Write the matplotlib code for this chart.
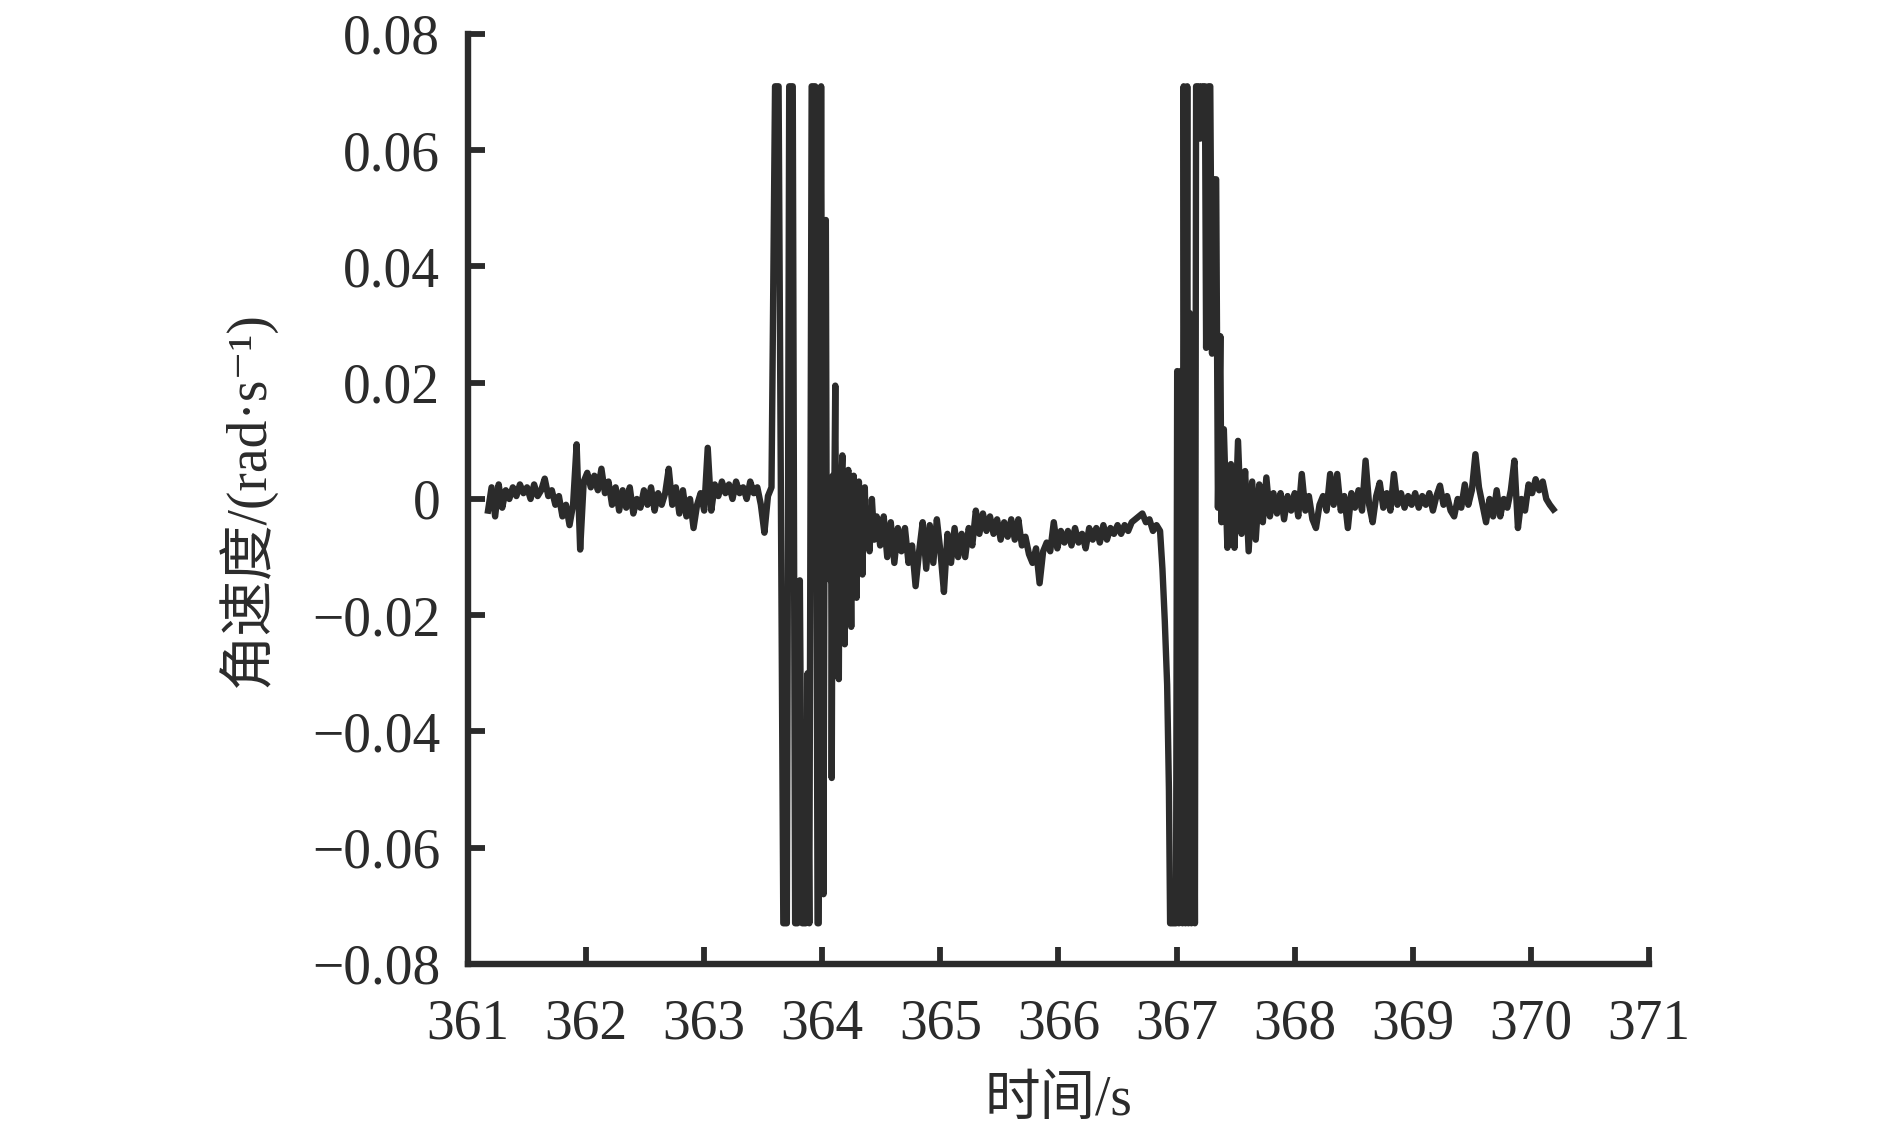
"""Angular velocity trace, 361-371 s."""

import matplotlib
matplotlib.use("Agg")
import matplotlib.pyplot as plt
import numpy as np

plt.rcParams["font.family"] = ["Liberation Serif", "DejaVu Serif", "Noto Sans CJK SC"]
plt.rcParams["axes.unicode_minus"] = True

# --- data (angular velocity in mrad/s) ---------------------------------
# quiet segment before the first disturbance, sampled every 0.03 s
seg_a_t0 = 361.17
seg_a_dt = 0.03
seg_a_mrad = [
    -2, 2, -3, 2.5, -1.5, 1.5, 0, 2, 0.5, 2.5,
    1, 2, 0, 2.5, 0.5, 1.5, 3.5, 0.5, 1.5, -1,
    0.5, -3, -1, -4.5, -1, 9.4, -8.7, 3, 4.5, 2,
    4, 1.5, 5.2, 1, 3, -1, 2, -2, 1.5, -1.5,
    2, -2.5, 0, -1.5, 1.5, -1, 2, -2, 1, -1,
    1, 5.2, -1, 2, -2.5, 1.5, -3, 0, -5, -1,
    1, -2, 8.8, -2, 2.5, 0.5, 3, 1, 2.5, 0,
    3, 1, 2, 0, 3, 1, 2, -1, -5.8, 0.5,
]

# first disturbance (saturated at about +0.071 / -0.073)
burst1_t = [
    363.57, 363.60, 363.63, 363.67, 363.70, 363.72, 363.75, 363.77, 363.79, 363.81,
    363.83, 363.86, 363.875, 363.89, 363.91, 363.94, 363.96, 363.97, 363.99, 364.01,
    364.02, 364.03, 364.038, 364.045, 364.052, 364.06, 364.068, 364.075, 364.08, 364.088,
    364.095, 364.103, 364.11, 364.117, 364.124, 364.131, 364.14, 364.147, 364.154, 364.161,
    364.17, 364.177, 364.184, 364.19, 364.197, 364.204, 364.211, 364.22, 364.227, 364.234,
    364.245, 364.252, 364.259, 364.266, 364.273, 364.28, 364.29, 364.297, 364.304, 364.31,
    364.318, 364.326, 364.34, 364.35, 364.36, 364.37, 364.38, 364.40, 364.42, 364.44,
]
burst1_mrad = [
    2, 71, 71, -73, -73, 71, 71, -73, -73, -14,
    -73, -73, -30, -73, 71, 71, -73, -73, 71, -68,
    5, 48, -12, 3, -10, 2, -14, 0, -48, 4,
    -11, 3, 19.5, -12, 2, -10, -31, 3, -11, 2,
    7.5, -12, 1, -25, 3, -11, 2, 5, -10, 1,
    -22, 2, -9, 4, -10, 1, -17, 2, -8, 3,
    -9, 0, -13, 1, 2, -8, -3, -9, 0, -7,
]

# drift between the two disturbances
seg_b_t0 = 364.46
seg_b_dt = 0.03
seg_b_mrad = [
    -3, -8, -3, -10, -4, -11, -5, -9, -5, -11,
    -8, -15, -9, -4, -12, -4.5, -11, -3.5, -9, -16,
    -6, -11, -5, -10, -6, -10, -5, -8, -2, -6,
    -2.5, -5.5, -3, -6, -3.5, -7, -4, -6.5, -3.5, -7,
    -3.5, -8, -6.5, -9.5, -11, -8.5, -14.5, -9, -7.5, -9,
    -4, -8.5, -5.5, -7.5, -5.5, -8, -5, -7.5, -6, -8.5,
    -5, -7, -5, -7.5, -4.5, -7, -5, -6, -4.5, -6,
    -4.5, -5.5, -4, -3.5, -3, -2.5, -4, -3.5, -5.5, -4.5,
    -5.5,
]

# second disturbance
burst2_t = [
    366.88, 366.90, 366.92, 366.935, 366.945, 366.995, 367.005, 367.02, 367.035, 367.05,
    367.06, 367.075, 367.09, 367.10, 367.11, 367.125, 367.14, 367.155, 367.165, 367.19,
    367.20, 367.215, 367.24, 367.25, 367.27, 367.285, 367.30, 367.31, 367.335, 367.35,
    367.37, 367.38,
]
burst2_mrad = [
    -12, -21, -32, -50, -73, -73, 22, -73, 22, -73,
    71, -73, 71, -73, 32, -73, 12, -73, 71, 71,
    62, 71, 71, 26, 71, 71, 25, 55, 55, -1.5,
    28, -4,
]

# quiet segment after the second disturbance
seg_c_t0 = 367.40
seg_c_dt = 0.03
seg_c_mrad = [
    12, -8.4, 6, -8.4, 10, -6, 4.8, -9, 3, -7,
    2.5, -4, 3.7, -3, 1, -2.5, 1, -3.5, 0.5, -2,
    1, -3, 4.3, -2, 0.5, -3.5, -5, -1, 0.5, -2,
    4.3, -1, 4.3, -2, 0.5, -5, 1, -1.5, 1.5, -2,
    6.6, -1, -4, 0.5, 2.8, -1.5, 1, -2, 4.3, -1,
    1, -1.5, 0.5, -1, 1, -1.5, 0.5, -1, 1, -2,
    0.5, 2.3, -1, 0.5, -2, -3, 0, -1.5, 2.5, -1,
    1.5, 7.7, 2, -1, -4, 0, -3, 1.5, -3, 0,
    -1.5, 1.5, 6.6, -5, 0, -2, 2.5, 1, 3.4, 1.5,
    3, 0, -1, -1.8,
]

x_ticks = [361, 362, 363, 364, 365, 366, 367, 368, 369, 370, 371]
y_ticks = [-0.08, -0.06, -0.04, -0.02, 0, 0.02, 0.04, 0.06, 0.08]
y_tick_labels = ["\u22120.08", "\u22120.06", "\u22120.04", "\u22120.02", "0",
                 "0.02", "0.04", "0.06", "0.08"]


def segment_times(t0, dt, values):
    return t0 + dt * np.arange(len(values))


time = np.concatenate([
    segment_times(seg_a_t0, seg_a_dt, seg_a_mrad),
    burst1_t,
    segment_times(seg_b_t0, seg_b_dt, seg_b_mrad),
    burst2_t,
    segment_times(seg_c_t0, seg_c_dt, seg_c_mrad),
])
omega = np.concatenate([seg_a_mrad, burst1_mrad, seg_b_mrad, burst2_mrad, seg_c_mrad]) / 1000.0

# --- figure ------------------------------------------------------------
ink = "#2b2b2b"
fig = plt.figure(figsize=(18.9, 11.33), dpi=100)
ax = fig.add_axes([0.2476, 0.1492, 0.6249, 0.8208])

ax.plot(time, omega, color=ink, lw=4.6)

ax.set_xlim(361, 371)
ax.set_ylim(-0.08, 0.08)
ax.set_xticks(x_ticks)
ax.set_yticks(y_ticks)
ax.set_yticklabels(y_tick_labels)

for side in ("top", "right"):
    ax.spines[side].set_visible(False)
for side in ("left", "bottom"):
    ax.spines[side].set_linewidth(4.6)
    ax.spines[side].set_color(ink)

ax.tick_params(direction="in", length=12, width=4.2, color=ink,
               labelsize=40, labelcolor=ink)
ax.tick_params(axis="y", pad=20)
ax.tick_params(axis="x", pad=25)

ax.set_xlabel("时间/s", fontsize=40, color=ink)
ax.set_ylabel("角速度/(rad·s\u207b\u00b9)", fontsize=40, color=ink)
ax.xaxis.set_label_coords(0.5, -0.119)
ax.yaxis.set_label_coords(-0.162, 0.5)

fig.savefig("out.png", dpi=100)
